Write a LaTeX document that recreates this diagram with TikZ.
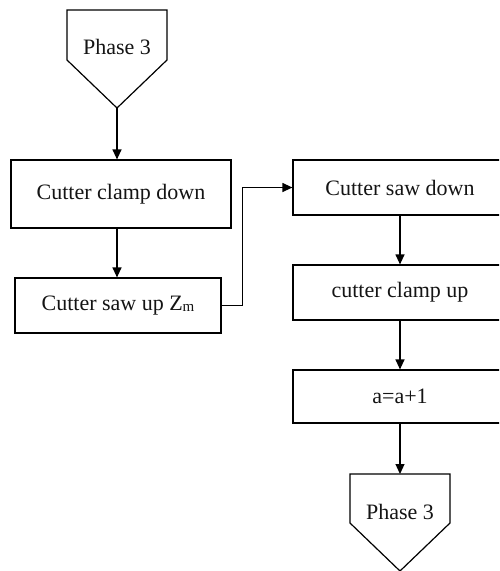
\documentclass[tikz,border=0pt]{standalone}
\usepackage{fontspec}
\setmainfont{Liberation Serif}
\usetikzlibrary{arrows.meta,calc}
\definecolor{lineclr}{RGB}{0,0,0}
\definecolor{txtclr}{RGB}{20,20,20}
\tikzset{
  fbox/.style={rectangle,draw=lineclr,line width=1.2pt,fill=white,
    minimum height=55pt,font=\fontsize{22}{26}\selectfont,
    align=center,text=txtclr,inner sep=4pt},
  phtxt/.style={font=\fontsize{22}{26}\selectfont,text=txtclr,inner sep=0pt},
  phline/.style={draw=lineclr,line width=1.2pt,line join=miter},
  arr/.style={-{Triangle[length=10pt,width=9pt]},line width=1.2pt,color=lineclr},
}

\begin{document}
\begin{tikzpicture}[x=1pt,y=-1pt]
  \clip (0,0) rectangle (499,571);

  % left column
  \node[phtxt] (ph1) at (117,47) {Phase 3};
  \draw[phline] ([shift={(-50,-37)}]ph1.center) -- ++(100,0) -- ++(0,50)
    -- ++(-50,48) coordinate (ph1tip) -- ++(-50,-48) -- cycle;
  \node[fbox,minimum width=220pt,minimum height=68pt] (b1) at (121,194) {Cutter clamp down};
  \node[fbox,minimum width=206pt] (b2) at (118,305.5)
    {Cutter saw up Z\raisebox{-1pt}{\fontsize{15}{15}\selectfont m}};

  % right column
  \node[fbox,minimum width=214pt] (b3) at (400,187.5) {Cutter saw down};
  \node[fbox,minimum width=214pt] (b4) at (400,292.5) {cutter clamp up};
  \node[fbox,minimum width=214pt,minimum height=53pt] (b5) at (400,396.5) {a=a+1};
  \node[phtxt] (ph2) at (400,512) {Phase 3};
  \draw[phline] ([shift={(-50,-38)}]ph2.center) -- ++(50,0) coordinate (ph2top)
    -- ++(50,0) -- ++(0,49) -- ++(-50,48) -- ++(-50,-48) -- cycle;

  \draw[arr] (ph1tip) -- (ph1tip |- b1.north);
  \draw[arr] (ph1tip |- b1.south) -- (ph1tip |- b2.north);
  \draw[arr] (b2.east) -- ++(21,0) |- (b3.west);
  \foreach \a/\b in {b3/b4,b4/b5}
    \draw[arr] (\a)--(\b);
  \draw[arr] (b5.south) -- (ph2top);
\end{tikzpicture}
\end{document}
